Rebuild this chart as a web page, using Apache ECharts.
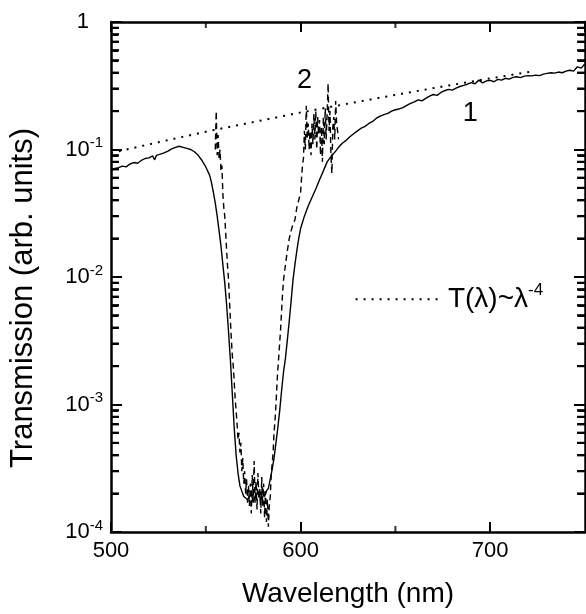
<!DOCTYPE html>
<html>
<head>
<meta charset="utf-8">
<script src="https://cdn.jsdelivr.net/npm/echarts@6/dist/echarts.min.js"></script>
<style>
  html, body { margin: 0; padding: 0; background: #fff; }
  #TransChart { width: 586px; height: 614px; }
</style>
</head>
<body>
<div id="TransChart"></div>
<script>
// curve 1 (solid) : [wavelength nm, transmission]
var curve1 = [
    [500, 0.068], [502, 0.071], [504, 0.072], [506, 0.074], [508, 0.073], [510, 0.077],
    [512, 0.079], [514, 0.078], [516, 0.082], [518, 0.085], [520, 0.086], [522, 0.089],
    [523, 0.083], [524, 0.090], [526, 0.092], [528, 0.094], [530, 0.097], [532, 0.101],
    [534, 0.104], [536, 0.106], [538, 0.104], [540, 0.102], [542, 0.100], [544, 0.096],
    [546, 0.090], [548, 0.082], [550, 0.073], [552, 0.063], [553, 0.055], [554, 0.046],
    [555, 0.038], [556, 0.030], [557, 0.023], [558, 0.0175], [559, 0.0125], [560, 0.0090],
    [561, 0.0060], [562, 0.0037], [563, 0.0022], [564, 0.0012], [565, 0.00065], [566, 0.00040],
    [567, 0.00029], [568, 0.00023], [570, 0.00019], [572, 0.00018], [574, 0.00020], [575, 0.00017],
    [576, 0.00019], [578, 0.00021], [579, 0.00017], [580, 0.00022], [581, 0.00019], [582, 0.00021],
    [583, 0.00022], [584, 0.00026], [585, 0.00031], [586, 0.00038], [587, 0.00050], [588, 0.00066],
    [589, 0.00090], [590, 0.0013], [591, 0.0018], [592, 0.0023], [593, 0.0032], [594, 0.0045],
    [595, 0.0065], [596, 0.0095], [597, 0.0125], [598, 0.016], [599, 0.020], [600, 0.024],
    [602, 0.030], [604, 0.036], [606, 0.042], [608, 0.049], [610, 0.058], [612, 0.068],
    [614, 0.080], [616, 0.088], [618, 0.095], [620, 0.104], [622, 0.112], [624, 0.118],
    [626, 0.126], [628, 0.133], [630, 0.140], [632, 0.147], [634, 0.152], [636, 0.160],
    [638, 0.166], [640, 0.176], [642, 0.183], [644, 0.188], [646, 0.192], [648, 0.200],
    [650, 0.205], [652, 0.208], [654, 0.213], [656, 0.222], [658, 0.230], [660, 0.236],
    [662, 0.245], [664, 0.241], [666, 0.252], [668, 0.262], [670, 0.270], [672, 0.266],
    [674, 0.280], [676, 0.289], [678, 0.296], [680, 0.292], [682, 0.303], [684, 0.312],
    [686, 0.318], [688, 0.325], [690, 0.335], [692, 0.328], [694, 0.350], [696, 0.333],
    [698, 0.345], [700, 0.348], [702, 0.340], [704, 0.355], [706, 0.350], [708, 0.362],
    [710, 0.356], [712, 0.368], [714, 0.372], [716, 0.366], [718, 0.376], [720, 0.380],
    [722, 0.378], [724, 0.383], [726, 0.380], [728, 0.390], [730, 0.395], [732, 0.400],
    [734, 0.397], [736, 0.405], [738, 0.400], [740, 0.412], [742, 0.418], [744, 0.412],
    [746, 0.445], [748, 0.435], [750, 0.470]
];

// curve 2 (dashed)
var curve2 = [
    [555, 0.10], [555.5, 0.20], [556, 0.09], [556.5, 0.13], [557, 0.085], [557.5, 0.10],
    [558, 0.068], [558.5, 0.075], [559, 0.045], [559.5, 0.035], [560, 0.030], [560.5, 0.022],
    [561, 0.016], [561.5, 0.012], [562, 0.0095], [562.5, 0.0065], [563, 0.0045], [563.5, 0.0032],
    [564, 0.0024], [564.5, 0.0020], [565, 0.0015], [565.5, 0.0011], [566, 0.0009], [566.5, 0.0007],
    [567, 0.00053], [567.5, 0.00060], [568, 0.00042], [568.5, 0.00050], [569, 0.00030], [569.5, 0.00038],
    [570, 0.00024], [570.5, 0.00030], [571, 0.00020], [571.5, 0.00026], [572, 0.00017], [572.5, 0.00023],
    [573, 0.00016], [573.5, 0.00024], [574, 0.00014], [574.5, 0.00028], [575, 0.00018], [575.5, 0.00036],
    [576, 0.00017], [576.5, 0.00025], [577, 0.00015], [577.5, 0.00029], [578, 0.00018], [578.5, 0.00022],
    [579, 0.00014], [579.5, 0.00027], [580, 0.00016], [580.5, 0.00024], [581, 0.00013], [581.5, 0.00021],
    [582, 0.00012], [582.5, 0.00018], [583, 0.00011], [583.5, 0.00016], [584, 0.00019], [584.5, 0.00028],
    [585, 0.00029], [585.5, 0.00042], [586, 0.00060], [586.5, 0.00075], [587, 0.00100], [587.5, 0.0014],
    [588, 0.0019], [588.5, 0.0024], [589, 0.0031], [589.5, 0.0040], [590, 0.0055], [590.5, 0.0075],
    [591, 0.0095], [592, 0.0125], [593, 0.016], [594, 0.020], [595, 0.023], [596, 0.026],
    [597, 0.028], [598, 0.035], [599, 0.040], [600, 0.046], [600.5, 0.060], [601, 0.075],
    [601.5, 0.085], [602, 0.14], [602.5, 0.10], [603, 0.22], [603.5, 0.12], [604, 0.16],
    [604.5, 0.10], [605, 0.14], [605.5, 0.09], [606, 0.16], [606.5, 0.11], [607, 0.19],
    [607.5, 0.12], [608, 0.20], [608.5, 0.10], [609, 0.18], [609.5, 0.13], [610, 0.17],
    [610.5, 0.09], [611, 0.15], [611.5, 0.08], [612, 0.18], [612.5, 0.11], [613, 0.21],
    [613.5, 0.12], [614, 0.19], [614.5, 0.33], [615, 0.14], [615.5, 0.20], [616, 0.09],
    [616.5, 0.065], [617, 0.15], [617.5, 0.18], [618, 0.12], [618.5, 0.24], [619, 0.16],
    [619.5, 0.14], [620, 0.12]
];

// dotted T(λ)~λ^-4 line
var fitLine = [
    [500, 0.094], [525, 0.114], [550, 0.138], [575, 0.164], [600, 0.195],
    [625, 0.229], [650, 0.268], [675, 0.312], [700, 0.361], [722, 0.409]
];

// minor log ticks (2..9 per decade) and minor wavelength ticks
var minorTicks = [
    0.0002, 0.0003, 0.0004, 0.0005, 0.0006, 0.0007, 0.0008, 0.0009,
    0.002, 0.003, 0.004, 0.005, 0.006, 0.007, 0.008, 0.009,
    0.02, 0.03, 0.04, 0.05, 0.06, 0.07, 0.08, 0.09,
    0.2, 0.3, 0.4, 0.5, 0.6, 0.7, 0.8, 0.9
];
var minorXTicks = [550, 650];

var xMin = 500, xMax = 750;
var yMin = 0.0001, yMax = 1;
var FONT = '"Liberation Sans", Arial, Helvetica, sans-serif';

var myChart = echarts.init(document.getElementById('TransChart'));

function xAx(pos, interval, tickLen, showLine, showLabel) {
    return {
        type: 'value',
        position: pos,
        min: xMin,
        max: xMax,
        interval: interval,
        splitLine: {show: false},
        axisLine: {show: showLine, onZero: false, lineStyle: {color: '#000', width: 2.5}},
        axisTick: {show: true, inside: true, length: tickLen, lineStyle: {color: '#000', width: 2}},
        axisLabel: {
            show: showLabel,
            showMaxLabel: false,
            margin: 8,
            color: '#000',
            fontSize: 22,
            fontFamily: FONT
        }
    };
}

// hidden linear axes in decades (log10 units) that only carry the 2..9 ticks
function minorYAx(pos) {
    return {
        type: 'value',
        position: pos,
        min: -4,
        max: 0,
        interval: 1,
        splitLine: {show: false},
        axisLine: {show: false},
        axisTick: {show: true, inside: true, length: 7,
            customValues: minorTicks.map(function (v) { return Math.log10(v); }),
            lineStyle: {color: '#000', width: 2}},
        axisLabel: {show: false}
    };
}

// short tick marks drawn as rect symbols sitting on the axes
function tickSeries(data, size, offset) {
    return {
        type: 'scatter',
        silent: true,
        clip: false,
        z: 5,
        symbol: 'rect',
        symbolSize: size,
        symbolOffset: offset,
        itemStyle: {color: '#000'},
        data: data
    };
}

var option = {
    animation: false,
    backgroundColor: '#fff',
    grid: {left: 109, top: 22, right: 1, bottom: 82, containLabel: false},
    xAxis: [
        Object.assign(xAx('bottom', 100, 10, true, true), {
            name: 'Wavelength (nm)',
            nameLocation: 'middle',
            nameGap: 48,
            nameTextStyle: {color: '#000', fontSize: 28, fontFamily: FONT}
        }),
        xAx('top', 100, 10, true, false)
    ],
    yAxis: [
        {
            type: 'log',
            logBase: 10,
            position: 'left',
            min: yMin,
            max: yMax,
            name: 'Transmission (arb. units)',
            nameLocation: 'middle',
            nameGap: 72,
            nameTextStyle: {color: '#000', fontSize: 31, fontFamily: FONT, padding: [0, 42, 0, 0]},
            splitLine: {show: false},
            axisLine: {show: true, lineStyle: {color: '#000', width: 2.5}},
            axisTick: {show: true, inside: true, length: 11, lineStyle: {color: '#000', width: 2}},
            axisLabel: {
                margin: 8,
                color: '#000',
                fontFamily: FONT,
                formatter: function (v) {
                    if (v >= 0.999) return '{one|1}';
                    return '{base|10}{sup|' + Math.round(Math.log10(v)) + '}';
                },
                rich: {
                    one: {fontSize: 22, fontFamily: FONT, color: '#000', padding: [0, 14, 0, 0], lineHeight: 28},
                    base: {fontSize: 22, fontFamily: FONT, color: '#000', lineHeight: 28},
                    sup: {fontSize: 15, fontFamily: FONT, color: '#000', verticalAlign: 'top', lineHeight: 28}
                }
            }
        },
        {
            type: 'log',
            logBase: 10,
            position: 'right',
            min: yMin,
            max: yMax,
            splitLine: {show: false},
            axisLine: {show: true, lineStyle: {color: '#000', width: 2.5}},
            axisTick: {show: true, inside: true, length: 11, lineStyle: {color: '#000', width: 2}},
            axisLabel: {show: false}
        },
        minorYAx('left'),
        minorYAx('right')
    ],
    series: [
        tickSeries(minorTicks.map(function (v) { return [xMin, v]; }), [8, 2], [4, 0]),
        tickSeries(minorTicks.map(function (v) { return [xMax, v]; }), [8, 2], [-4, 0]),
        tickSeries(minorXTicks.map(function (v) { return [v, yMin]; }), [2, 6], [0, -3]),
        tickSeries(minorXTicks.map(function (v) { return [v, yMax]; }), [2, 6], [0, 3]),
        {
            name: 'fit',
            type: 'line',
            data: fitLine,
            symbol: 'none',
            lineStyle: {color: '#000', width: 2, type: [2, 6]}
        },
        {
            name: '1',
            type: 'line',
            data: curve1,
            symbol: 'none',
            lineStyle: {color: '#000', width: 1.4}
        },
        {
            name: '2',
            type: 'line',
            data: curve2,
            symbol: 'none',
            lineStyle: {color: '#000', width: 1.4, type: [6, 4]}
        }
    ]
};
myChart.setOption(option);

var pick = {xAxisIndex: 0, yAxisIndex: 0};
var graphics = [];

// minor y ticks again as plain lines, x and y converted separately
var xl = myChart.convertToPixel({xAxisIndex: 0}, xMin);
var xr = myChart.convertToPixel({xAxisIndex: 0}, xMax);
minorTicks.forEach(function (v) {
    var y = myChart.convertToPixel({yAxisIndex: 0}, v);
    if (typeof y !== 'number' || isNaN(y)) return;
    graphics.push({type: 'line', shape: {x1: xl, y1: y, x2: xl + 8, y2: y},
        style: {stroke: '#000', lineWidth: 2}});
    graphics.push({type: 'line', shape: {x1: xr - 8, y1: y, x2: xr, y2: y},
        style: {stroke: '#000', lineWidth: 2}});
});

// curve labels and legend sample placed at data coordinates
var p2 = myChart.convertToPixel(pick, [602, 0.35]);
var p1 = myChart.convertToPixel(pick, [689.5, 0.193]);
var lgA = myChart.convertToPixel(pick, [629, 0.0067]);
var lgB = myChart.convertToPixel(pick, [674, 0.0067]);

graphics.push(
    {type: 'text', x: p2[0], y: p2[1], style: {text: '2', font: '27px ' + FONT, fill: '#000', align: 'center', verticalAlign: 'middle'}},
    {type: 'text', x: p1[0], y: p1[1], style: {text: '1', font: '27px ' + FONT, fill: '#000', align: 'center', verticalAlign: 'middle'}},
    {type: 'line', shape: {x1: lgA[0], y1: lgA[1], x2: lgB[0], y2: lgB[1]},
        style: {stroke: '#000', lineWidth: 2, lineDash: [2, 6]}},
    {
        type: 'text', x: lgB[0] + 7, y: lgB[1],
        style: {
            text: '{b|T(λ)~λ}{s|-4}',
            verticalAlign: 'middle',
            rich: {
                b: {fontSize: 28, fontFamily: FONT, fill: '#000', lineHeight: 34},
                s: {fontSize: 17, fontFamily: FONT, fill: '#000', verticalAlign: 'top', lineHeight: 34}
            }
        }
    }
);

myChart.setOption({graphic: graphics});
</script>
</body>
</html>
